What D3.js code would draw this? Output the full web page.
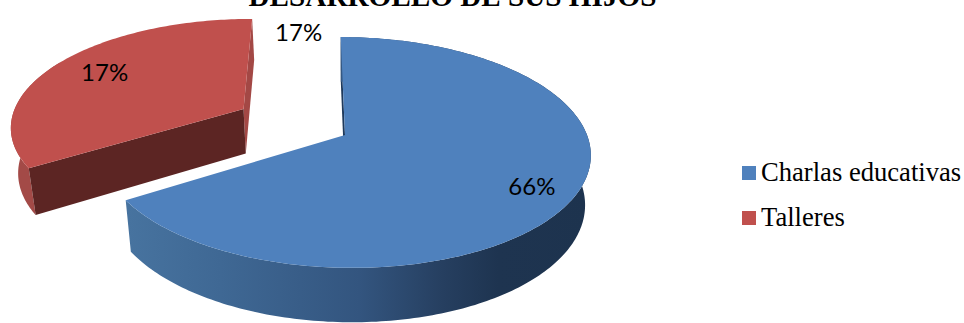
<!DOCTYPE html>
<html>
<head>
<meta charset="utf-8">
<script src="https://cdn.jsdelivr.net/npm/d3@7/dist/d3.min.js"></script>
<style>
  html, body { margin: 0; padding: 0; background: #fff; overflow: hidden; }
  svg { display: block; }
</style>
</head>
<body>
<script>
// Chart content
const titleText = "DESARROLLO DE SUS HIJOS";
const legendNames = ["Charlas educativas", "Talleres"];
const sliceValues = [66, 17, 17];
const sliceLabels = ["66%", "17%", "17%"];
const sliceColors = ["#4f81bd", "#c0504d", "#c0504d"];

// Camera and layout of the tilted 3D pie
const W = 964, H = 323;
const view = { cx: 345, cy: 135, rx: 242, ry: 112.8, persp: 0.151, depth: 50, fall: 0.024, shear: 0.055 };
const startDeg = 0.3;
const explode = 0.49;           // pull-out of the red wedge, in radii
const redScale = 0.98;          // the pulled wedge sits further from the camera
const redDepth = 0.93;
const labelPlaces = [           // polar spot in the disc: degrees clockwise from top, radius
  { deg: 121, r: 0.83, pulled: false },
  { deg: 300, r: 0.74, pulled: true },
  { deg: 349.5, r: 1.07, pulled: false }
];

const svg = d3.select("body").append("svg").attr("width", W).attr("height", H);
const rad = d => d * Math.PI / 180;

const pie = d3.pie().sort(null)
  .startAngle(rad(startDeg)).endAngle(rad(startDeg + 360));
const arcs = pie(sliceValues);

// Disc position (u right, v toward the viewer) to screen; z=1 is the underside
function project(u, v, z) {
  const w = (1 - view.persp * v) * (1 + view.fall * z);
  const lean = view.ry * v / w;
  return [view.cx + view.rx * u / w + view.shear * lean, view.cy + lean + view.depth * z / w];
}
const polar = (a, r) => [r * Math.sin(a), -r * Math.cos(a)];

const line = d3.line();
function rimPoints(a0, a1, off, z, r = 1) {
  const n = Math.max(2, Math.ceil(Math.abs(a1 - a0) / rad(1)));
  return d3.range(n + 1).map(i => {
    const [u, v] = polar(a0 + (a1 - a0) * i / n, r);
    return project(u + off[0], v + off[1], z);
  });
}
const quad = (pts, fill) => svg.append("path").attr("d", line(pts) + "Z").attr("fill", fill);

// Side shading across the blue rim
const defs = svg.append("defs");
const rimGrad = defs.append("linearGradient").attr("id", "rimBlue")
  .attr("gradientUnits", "userSpaceOnUse").attr("x1", 128).attr("x2", 591).attr("y1", 0).attr("y2", 0);
[[0, "#47739f"], [0.2, "#3f6894"], [0.5, "#33557f"], [0.68, "#263f60"], [0.8, "#1e3450"], [1, "#1d334e"]]
  .forEach(([o, c]) => rimGrad.append("stop").attr("offset", o).attr("stop-color", c));

// Red wedge: the two 17% slices pulled out together
const redStart = arcs[1].startAngle, redEnd = arcs[2].endAngle;
const redMid = (redStart + redEnd) / 2;
const off = polar(redMid, explode);
const apexTop = project(off[0], off[1], 0), apexBot = project(off[0], off[1], redDepth);
const redEdge = a => {
  const p = polar(a, redScale);
  return [project(off[0] + p[0], off[1] + p[1], 0), project(off[0] + p[0], off[1] + p[1], redDepth)];
};

// far cut face of the red wedge
const endEdge = redEdge(redEnd);
quad([apexTop, endEdge[0], endEdge[1], apexBot], "#a34845");
// outer rim on the left
quad(rimPoints(redStart, redMid, off, 0, redScale)
  .concat(rimPoints(redStart, redMid, off, redDepth, redScale).reverse()), "#a34a47");
// near cut face
const startEdge = redEdge(redStart);
quad([apexTop, startEdge[0], startEdge[1], apexBot], "#5c2523");
// top face
quad([apexTop].concat(rimPoints(redStart, redEnd, off, 0, redScale)), sliceColors[1]);

// Blue slice: inner sliver, outer rim, then the top face
const a0 = arcs[0].startAngle, a1 = arcs[0].endAngle;
const s0 = polar(a0, 1);
quad([project(s0[0], s0[1], 0), project(0, 0, 0), project(0, 0, 1), project(s0[0], s0[1], 1)], "#1f3a5c");
quad(rimPoints(a0, a1, [0, 0], 0).concat(rimPoints(a0, a1, [0, 0], 1).reverse()), "url(#rimBlue)");
quad([project(0, 0, 0)].concat(rimPoints(a0, a1, [0, 0], 0)), sliceColors[0]);

// Percentage labels
svg.append("g").selectAll("text").data(sliceLabels).join("text")
  .attr("transform", (d, i) => {
    const p = labelPlaces[i], q = polar(rad(p.deg), p.r), o = p.pulled ? off : [0, 0];
    const s = project(q[0] + o[0], q[1] + o[1], 0);
    return `translate(${s[0]},${s[1]})`;
  })
  .attr("text-anchor", "middle").attr("dy", "0.35em")
  .attr("font-family", "Lato, Carlito, sans-serif").attr("font-size", 24).attr("fill", "#000")
  .text(d => d);

// Title, running off the top edge
svg.append("text").attr("x", 452.5).attr("y", 6).attr("text-anchor", "middle")
  .attr("font-family", "'Liberation Serif', serif").attr("font-weight", "bold").attr("font-size", 29.2)
  .attr("fill", "#000").text(titleText);

// Legend
const legendY = d3.scalePoint().domain(legendNames).range([173, 218]);
const items = svg.append("g").selectAll("g").data(legendNames).join("g")
  .attr("transform", d => `translate(742,${legendY(d)})`);
items.append("rect").attr("x", 0).attr("y", -7).attr("width", 14).attr("height", 14)
  .attr("fill", (d, i) => sliceColors[i]);
items.append("text").attr("x", 19).attr("y", 8.4)
  .attr("font-family", "'Liberation Serif', serif").attr("font-size", 26.6).attr("fill", "#000")
  .text(d => d);
</script>
</body>
</html>
